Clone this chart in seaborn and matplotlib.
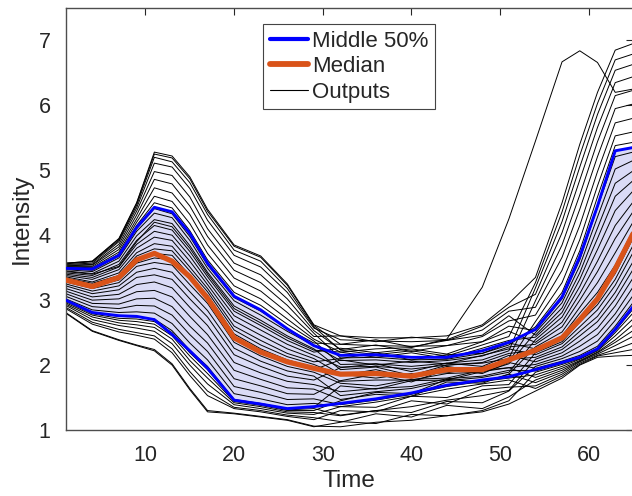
import matplotlib
matplotlib.use("Agg")
import matplotlib.pyplot as plt
from matplotlib.lines import Line2D
import pandas as pd
import seaborn as sns

# Sample times shared by every series
time = [1, 4, 7, 9, 11, 13, 15, 17, 20, 23, 26, 29,
        32, 36, 40, 44, 48, 51, 54, 57, 59, 61, 63, 65]

# Individual model outputs (one row per run)
outputs = [
    [2.80, 2.52, 2.38, 2.30, 2.22, 2.00, 1.62, 1.28, 1.25, 1.20, 1.15, 1.05, 1.12, 1.25, 1.20, 1.38, 1.33, 1.51, 1.77, 1.92, 2.06, 2.19, 2.35, 2.53],
    [2.81, 2.53, 2.39, 2.31, 2.24, 2.02, 1.64, 1.30, 1.26, 1.21, 1.16, 1.06, 1.05, 1.12, 1.15, 1.22, 1.28, 1.40, 1.60, 1.80, 2.00, 2.12, 2.14, 2.15],
    [2.87, 2.63, 2.51, 2.46, 2.40, 2.19, 1.84, 1.53, 1.33, 1.28, 1.21, 1.16, 1.30, 1.28, 1.45, 1.40, 1.62, 1.66, 1.68, 1.86, 2.03, 2.15, 2.24, 2.34],
    [2.89, 2.66, 2.55, 2.50, 2.45, 2.25, 1.90, 1.60, 1.35, 1.30, 1.23, 1.19, 1.13, 1.10, 1.24, 1.22, 1.30, 1.45, 1.89, 2.01, 2.10, 2.23, 2.50, 2.80],
    [2.92, 2.70, 2.61, 2.57, 2.52, 2.33, 2.00, 1.71, 1.39, 1.33, 1.26, 1.24, 1.36, 1.43, 1.52, 1.63, 1.71, 1.77, 1.64, 1.83, 2.01, 2.14, 2.19, 2.24],
    [2.94, 2.74, 2.65, 2.62, 2.58, 2.40, 2.07, 1.80, 1.42, 1.36, 1.28, 1.27, 1.22, 1.30, 1.27, 1.44, 1.42, 1.60, 1.98, 2.10, 2.21, 2.37, 2.69, 3.07],
    [2.96, 2.77, 2.69, 2.67, 2.63, 2.45, 2.14, 1.87, 1.44, 1.38, 1.30, 1.30, 1.45, 1.58, 1.56, 1.78, 1.74, 1.86, 1.73, 1.89, 2.05, 2.17, 2.30, 2.44],
    [2.98, 2.79, 2.72, 2.71, 2.67, 2.50, 2.19, 1.93, 1.46, 1.40, 1.31, 1.33, 1.23, 1.30, 1.36, 1.46, 1.53, 1.61, 2.09, 2.24, 2.45, 2.67, 3.02, 3.47],
    [2.99, 2.81, 2.75, 2.74, 2.71, 2.53, 2.23, 1.98, 1.47, 1.41, 1.33, 1.35, 1.68, 1.63, 1.76, 1.77, 1.90, 1.96, 1.81, 1.95, 2.07, 2.20, 2.39, 2.62],
    [3.02, 2.85, 2.81, 2.82, 2.80, 2.64, 2.34, 2.08, 1.56, 1.48, 1.39, 1.41, 1.36, 1.35, 1.52, 1.50, 1.68, 1.70, 2.19, 2.36, 2.66, 2.93, 3.32, 3.84],
    [3.06, 2.90, 2.87, 2.92, 2.91, 2.77, 2.47, 2.21, 1.67, 1.58, 1.47, 1.48, 1.39, 1.46, 1.55, 1.67, 1.75, 1.80, 1.85, 1.98, 2.09, 2.22, 2.45, 2.71],
    [3.10, 2.95, 2.94, 3.02, 3.03, 2.90, 2.60, 2.34, 1.79, 1.68, 1.56, 1.55, 1.76, 1.86, 1.74, 1.93, 1.87, 2.04, 1.95, 2.06, 2.15, 2.29, 2.60, 2.96],
    [3.14, 3.00, 3.02, 3.13, 3.15, 3.05, 2.75, 2.47, 1.92, 1.78, 1.65, 1.63, 1.47, 1.55, 1.52, 1.74, 1.72, 1.86, 2.28, 2.51, 2.89, 3.27, 3.73, 4.20],
    [3.18, 3.05, 3.09, 3.24, 3.28, 3.19, 2.89, 2.61, 2.04, 1.88, 1.75, 1.70, 1.59, 1.64, 1.67, 1.79, 1.83, 1.92, 1.91, 2.03, 2.11, 2.24, 2.53, 2.86],
    [3.22, 3.10, 3.16, 3.35, 3.39, 3.32, 3.02, 2.74, 2.16, 1.98, 1.83, 1.77, 1.96, 2.02, 1.90, 2.03, 1.98, 2.15, 2.05, 2.19, 2.37, 2.57, 2.91, 3.34],
    [3.25, 3.14, 3.22, 3.43, 3.49, 3.43, 3.13, 2.84, 2.26, 2.06, 1.91, 1.83, 1.53, 1.59, 1.64, 1.76, 1.81, 1.89, 2.39, 2.74, 3.21, 3.78, 4.38, 4.68],
    [3.28, 3.18, 3.27, 3.52, 3.58, 3.54, 3.24, 2.95, 2.35, 2.14, 1.98, 1.89, 1.72, 1.68, 1.78, 1.80, 1.92, 1.96, 2.01, 2.14, 2.29, 2.47, 2.79, 3.20],
    [3.30, 3.21, 3.31, 3.57, 3.65, 3.62, 3.32, 3.02, 2.42, 2.20, 2.03, 1.93, 2.08, 2.00, 2.06, 2.02, 2.15, 2.25, 2.16, 2.33, 2.59, 2.85, 3.23, 3.73],
    [3.32, 3.23, 3.35, 3.63, 3.72, 3.69, 3.38, 3.08, 2.48, 2.25, 2.08, 1.97, 1.75, 1.77, 1.77, 1.87, 1.89, 2.02, 2.50, 2.96, 3.53, 4.28, 5.02, 5.15],
    [3.34, 3.26, 3.38, 3.68, 3.79, 3.76, 3.45, 3.13, 2.54, 2.31, 2.13, 2.01, 1.84, 1.93, 1.80, 1.98, 1.90, 2.09, 2.12, 2.28, 2.52, 2.75, 3.12, 3.59],
    [3.36, 3.28, 3.42, 3.73, 3.87, 3.83, 3.51, 3.18, 2.60, 2.38, 2.18, 2.05, 2.10, 2.19, 2.08, 2.16, 2.18, 2.34, 2.25, 2.45, 2.80, 3.12, 3.54, 4.07],
    [3.38, 3.32, 3.47, 3.80, 3.97, 3.92, 3.60, 3.24, 2.68, 2.46, 2.25, 2.10, 1.86, 1.80, 1.87, 1.88, 1.97, 2.05, 2.67, 3.27, 3.93, 4.76, 5.53, 5.59],
    [3.40, 3.35, 3.51, 3.86, 4.06, 4.00, 3.68, 3.30, 2.76, 2.54, 2.32, 2.15, 1.97, 1.98, 1.94, 2.00, 2.04, 2.18, 2.22, 2.40, 2.72, 3.01, 3.41, 3.95],
    [3.42, 3.38, 3.55, 3.92, 4.15, 4.08, 3.75, 3.36, 2.83, 2.61, 2.38, 2.20, 2.26, 2.19, 2.25, 2.17, 2.36, 2.52, 2.35, 2.66, 3.10, 3.60, 4.15, 4.51],
    [3.45, 3.41, 3.60, 3.99, 4.24, 4.18, 3.84, 3.43, 2.91, 2.69, 2.45, 2.25, 1.93, 1.97, 1.84, 2.00, 2.03, 2.10, 2.99, 3.85, 4.62, 5.44, 6.15, 6.23],
    [3.47, 3.44, 3.65, 4.06, 4.34, 4.27, 3.92, 3.49, 2.99, 2.77, 2.52, 2.30, 2.07, 2.08, 2.04, 2.07, 2.14, 2.28, 2.32, 2.59, 3.00, 3.44, 3.95, 4.36],
    [3.49, 3.46, 3.68, 4.10, 4.41, 4.33, 3.98, 3.54, 3.04, 2.83, 2.56, 2.34, 2.32, 2.39, 2.28, 2.38, 2.46, 2.76, 2.46, 2.88, 3.42, 4.11, 4.80, 4.99],
    [3.50, 3.48, 3.71, 4.15, 4.50, 4.42, 4.07, 3.62, 3.12, 2.92, 2.63, 2.37, 2.01, 2.02, 1.98, 2.03, 2.08, 2.22, 3.19, 4.21, 5.05, 5.86, 6.54, 6.63],
    [3.51, 3.50, 3.74, 4.20, 4.60, 4.52, 4.18, 3.72, 3.22, 3.02, 2.71, 2.40, 2.20, 2.12, 2.19, 2.10, 2.26, 2.38, 2.43, 2.81, 3.32, 3.95, 4.60, 4.84],
    [3.52, 3.52, 3.78, 4.25, 4.73, 4.65, 4.32, 3.85, 3.34, 3.14, 2.81, 2.44, 2.45, 2.42, 2.42, 2.45, 2.62, 2.95, 3.35, 4.50, 5.40, 6.20, 6.85, 6.95],
    [3.53, 3.54, 3.82, 4.31, 4.86, 4.79, 4.45, 3.98, 3.46, 3.27, 2.92, 2.49, 2.11, 2.12, 2.08, 2.09, 2.18, 2.31, 2.59, 3.12, 3.76, 4.59, 5.38, 5.43],
    [3.54, 3.55, 3.86, 4.37, 4.98, 4.92, 4.59, 4.10, 3.57, 3.39, 3.02, 2.53, 2.24, 2.31, 2.21, 2.30, 2.36, 2.60, 2.53, 3.02, 3.62, 4.43, 5.21, 5.28],
    [3.55, 3.57, 3.90, 4.42, 5.11, 5.05, 4.72, 4.23, 3.69, 3.51, 3.12, 2.57, 2.39, 2.37, 2.36, 2.38, 2.54, 2.83, 2.89, 3.66, 4.40, 5.21, 5.95, 6.02],
    [3.56, 3.59, 3.92, 4.46, 5.20, 5.13, 4.81, 4.32, 3.77, 3.60, 3.18, 2.59, 2.23, 2.16, 2.22, 2.14, 2.31, 2.44, 3.27, 4.36, 5.23, 6.03, 6.70, 6.79],
    [3.57, 3.60, 3.94, 4.49, 5.25, 5.19, 4.87, 4.37, 3.83, 3.66, 3.23, 2.61, 2.32, 2.30, 2.29, 2.30, 2.44, 2.68, 2.77, 3.46, 4.15, 4.98, 5.73, 5.80],
    [3.57, 3.60, 3.95, 4.50, 5.28, 5.22, 4.90, 4.40, 3.85, 3.68, 3.25, 2.62, 2.45, 2.36, 2.43, 2.39, 2.60, 2.89, 3.09, 4.04, 4.85, 5.66, 6.35, 6.44],
    [3.44, 3.40, 3.52, 3.90, 4.20, 4.13, 3.80, 3.40, 2.87, 2.65, 2.42, 2.23, 2.20, 2.25, 2.27, 2.40, 3.20, 4.25, 5.45, 6.67, 6.84, 6.66, 6.20, 6.25],
]

# Summary statistics across runs
median = [3.31, 3.21, 3.35, 3.62, 3.72, 3.60, 3.36, 3.03, 2.42, 2.20, 2.05, 1.95,
          1.86, 1.87, 1.83, 1.93, 1.93, 2.08, 2.23, 2.42, 2.70, 3.02, 3.48, 4.02]
lower_quartile = [3.00, 2.81, 2.76, 2.75, 2.70, 2.47, 2.22, 1.95, 1.46, 1.40, 1.33, 1.36,
                  1.41, 1.48, 1.57, 1.69, 1.77, 1.82, 1.93, 2.04, 2.12, 2.25, 2.55, 2.90]
upper_quartile = [3.49, 3.48, 3.69, 4.12, 4.43, 4.36, 4.03, 3.57, 3.06, 2.85, 2.56, 2.30,
                  2.15, 2.16, 2.12, 2.12, 2.22, 2.35, 2.55, 3.05, 3.67, 4.45, 5.30, 5.35]

band_blue = "#0000FF"
median_orange = "#D95319"
fill_colour = (0.855, 0.86, 0.965)
axis_grey = "#4d4d4d"
text_grey = "#262626"

runs = pd.DataFrame(
    [(i, t, v) for i, row in enumerate(outputs) for t, v in zip(time, row)],
    columns=["run", "Time", "Intensity"],
)

sns.set_theme(style="white")
plt.rcParams["font.family"] = ["Liberation Sans", "DejaVu Sans"]

fig = plt.figure(figsize=(6.32, 4.96), dpi=100)
ax = fig.add_axes([0.104, 0.133, 0.8975, 0.851])

ax.fill_between(time, lower_quartile, upper_quartile, color=fill_colour,
                linewidth=0, zorder=1)
sns.lineplot(data=runs, x="Time", y="Intensity", units="run", estimator=None,
             color="black", linewidth=0.7, legend=False, ax=ax, zorder=2)
sns.lineplot(x=time, y=lower_quartile, color=band_blue, linewidth=2.1,
             ax=ax, zorder=3)
sns.lineplot(x=time, y=upper_quartile, color=band_blue, linewidth=2.1,
             ax=ax, zorder=3)
sns.lineplot(x=time, y=median, color=median_orange, linewidth=3.8,
             ax=ax, zorder=4)

ax.set_xlim(1, 65)
ax.set_ylim(1, 7.5)
ax.set_xticks([10, 20, 30, 40, 50, 60])
ax.set_yticks([1, 2, 3, 4, 5, 6, 7])
ax.tick_params(direction="in", length=5, width=0.8, top=True, right=True,
               labelsize=15.5, colors=text_grey)
ax.tick_params(axis="x", pad=11)
ax.tick_params(axis="y", pad=11)
for side in ax.spines.values():
    side.set_color(axis_grey)
    side.set_linewidth(1.0)
ax.set_xlabel("Time", fontsize=17.5, color=text_grey, labelpad=3)
ax.set_ylabel("Intensity", fontsize=17.5, color=text_grey, labelpad=4)

handles = [
    Line2D([], [], color=band_blue, linewidth=3),
    Line2D([], [], color=median_orange, linewidth=4.2),
    Line2D([], [], color="black", linewidth=0.8),
]
leg = ax.legend(handles, ["Middle 50%", "Median", "Outputs"],
                loc="upper center", bbox_to_anchor=(0.4995, 0.962),
                fontsize=16, frameon=True, fancybox=False, framealpha=1,
                edgecolor="#444444", handlelength=1.7, handletextpad=0.2,
                labelspacing=0.2, borderpad=0.3, borderaxespad=0)
leg.get_frame().set_linewidth(0.8)

fig.savefig("out.png", dpi=100)
